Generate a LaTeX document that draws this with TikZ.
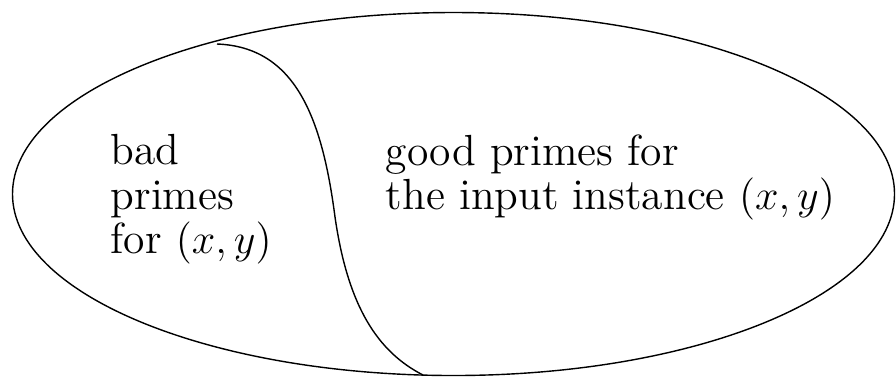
\documentclass[tikz,border=0pt]{standalone}
\usepackage{amsmath, amssymb}
\usepackage{tikz}
\usetikzlibrary{positioning}

\begin{document}
\begin{tikzpicture}[scale=1.0]
        \useasboundingbox (0,0) rectangle (8.96,3.77);

        % Vùng các số nguyên tố
        \draw (4.535,1.83) ellipse (4.41 and 1.815);

        % Đường chia tốt / xấu
        \coordinate (top) at (2.17,3.33);
        \coordinate (mid) at (3.35,1.60);
        \coordinate (bot) at (4.23,0.02);
        \draw (top) .. controls (2.95,3.30) and (3.22,2.60) .. (mid)
              .. controls (3.48,0.70) and (3.78,0.25) .. (bot);

        % Nhãn
        \tikzset{lbl/.style={anchor=north west, inner sep=0pt, align=left,
            font=\fontsize{12.4}{12.6}\selectfont}}
        \node[lbl] (bad) at (1.10,2.43) {bad\\primes\\for $(x,y)$};
        \node[lbl] (good) at (3.85,2.43) {good primes for\\the input instance $(x,y)$};
      \end{tikzpicture}
\end{document}
